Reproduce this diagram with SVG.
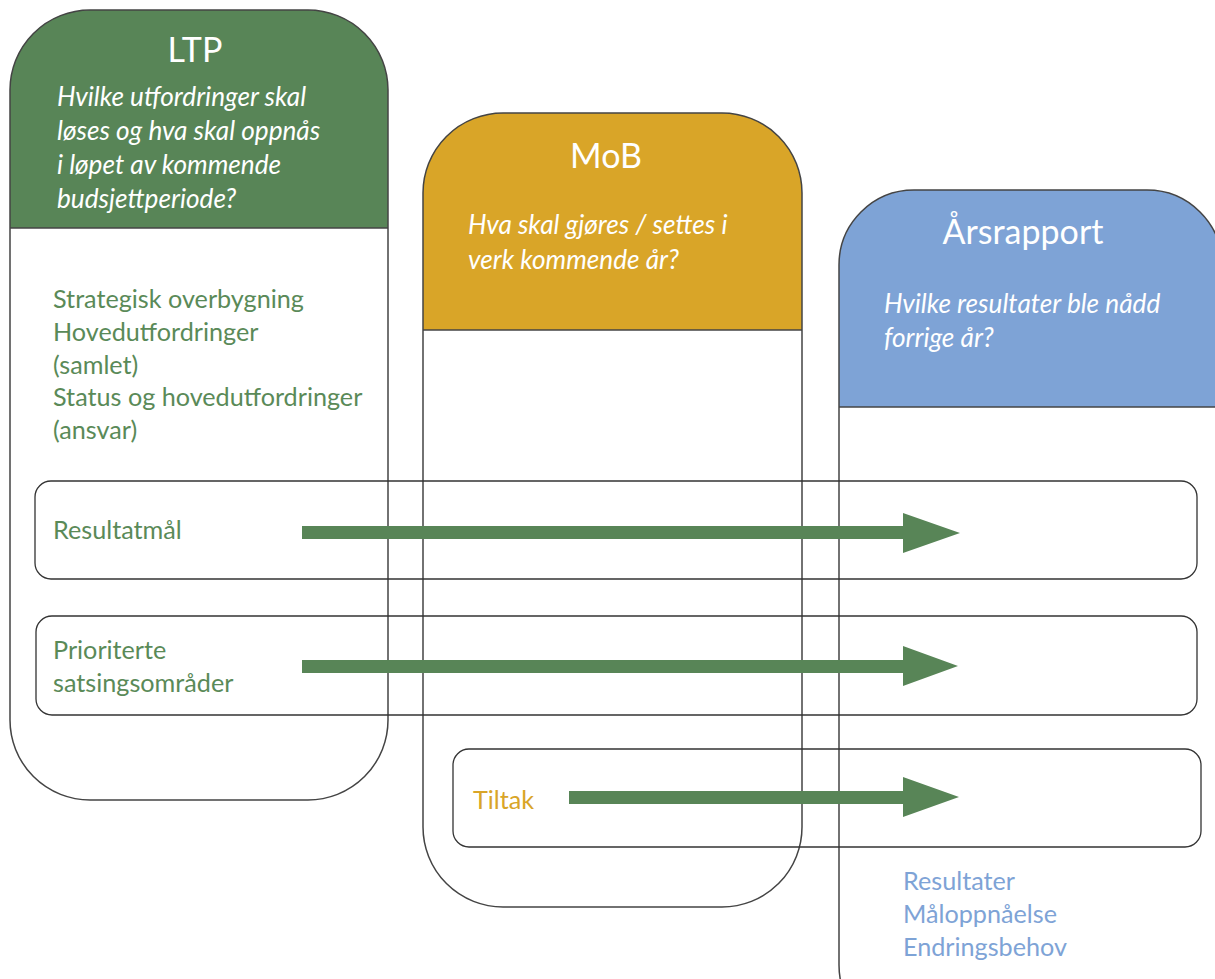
<svg xmlns="http://www.w3.org/2000/svg" width="1215" height="979" viewBox="0 0 1215 979">
<style>
.outline{fill:none;stroke:#444;stroke-width:1.5}
.row{fill:none;stroke:#333;stroke-width:1.3}
.title{font-family:"Lato","Liberation Sans",sans-serif;font-size:34px;fill:#fff;text-anchor:middle}
.q{font-family:"Lato","Liberation Sans",sans-serif;font-size:26.2px;font-style:italic;fill:#fff}
.t{font-family:"Lato","Liberation Sans",sans-serif;font-size:25.2px}
.g{fill:#5a8a58}
.y{fill:#d9a528}
.b{fill:#7ea3d6}
.arrow{fill:#588557}
</style>
<rect width="1215" height="979" fill="#fff"/>
<g id="LTP">
<path d="M10 228 V90 A80 80 0 0 1 90 10 H308 A80 80 0 0 1 388 90 V228 Z" fill="#588557"/>
<line x1="10" y1="228" x2="388" y2="228" stroke="#444" stroke-width="1.5"/>
<rect class="outline" x="10" y="10" width="378" height="790" rx="80" ry="80"/>
<text class="title" x="195" y="62">LTP</text>
<text class="q" x="57" y="106">Hvilke utfordringer skal</text>
<text class="q" x="57" y="140">løses og hva skal oppnås</text>
<text class="q" x="57" y="174">i løpet av kommende</text>
<text class="q" x="57" y="208">budsjettperiode?</text>
<text class="t g" x="53" y="308">Strategisk overbygning</text>
<text class="t g" x="53" y="341">Hovedutfordringer</text>
<text class="t g" x="53" y="374">(samlet)</text>
<text class="t g" x="53" y="406">Status og hovedutfordringer</text>
<text class="t g" x="53" y="439">(ansvar)</text>
</g>
<g id="MoB">
<path d="M423 330 V193 A80 80 0 0 1 503 113 H722 A80 80 0 0 1 802 193 V330 Z" fill="#d9a528"/>
<line x1="423" y1="330" x2="802" y2="330" stroke="#444" stroke-width="1.5"/>
<rect class="outline" x="423" y="113" width="379" height="794" rx="80" ry="80"/>
<text class="title" x="606" y="168">MoB</text>
<text class="q" x="468" y="234">Hva skal gjøres / settes i</text>
<text class="q" x="468" y="269">verk kommende år?</text>
</g>
<g id="Arsrapport">
<path d="M839 407 V265 A75 75 0 0 1 914 190 H1147 A75 75 0 0 1 1222 265 V407 Z" fill="#7ea3d6"/>
<line x1="839" y1="407" x2="1222" y2="407" stroke="#444" stroke-width="1.5"/>
<rect class="outline" x="839" y="190" width="383" height="850" rx="75" ry="75"/>
<text class="title" x="1023" y="244">Årsrapport</text>
<text class="q" x="884" y="313">Hvilke resultater ble nådd</text>
<text class="q" x="884" y="347">forrige år?</text>
<text class="t b" x="903" y="890">Resultater</text>
<text class="t b" x="903" y="923">Måloppnåelse</text>
<text class="t b" x="903" y="956">Endringsbehov</text>
</g>
<g id="row-resultatmal">
<rect class="row" x="35" y="481" width="1162" height="98" rx="16" ry="16"/>
<text class="t g" x="53" y="539">Resultatmål</text>
</g>
<g id="row-prioriterte">
<rect class="row" x="36" y="616" width="1161" height="99" rx="16" ry="16"/>
<text class="t g" x="53" y="659">Prioriterte</text>
<text class="t g" x="53" y="692">satsingsområder</text>
</g>
<g id="row-tiltak">
<rect class="row" x="453" y="749" width="748" height="98" rx="16" ry="16"/>
<text class="t y" x="473" y="809">Tiltak</text>
</g>
<g id="connectors">
<polygon class="arrow" points="302,526 903,526 903,513 960,533 903,553 903,539 302,539"/>
<polygon class="arrow" points="302,660 903,660 903,646 958,666 903,686 903,673 302,673"/>
<polygon class="arrow" points="569,791 903,791 903,777 959,797 903,817 903,804 569,804"/>
</g>
</svg>
